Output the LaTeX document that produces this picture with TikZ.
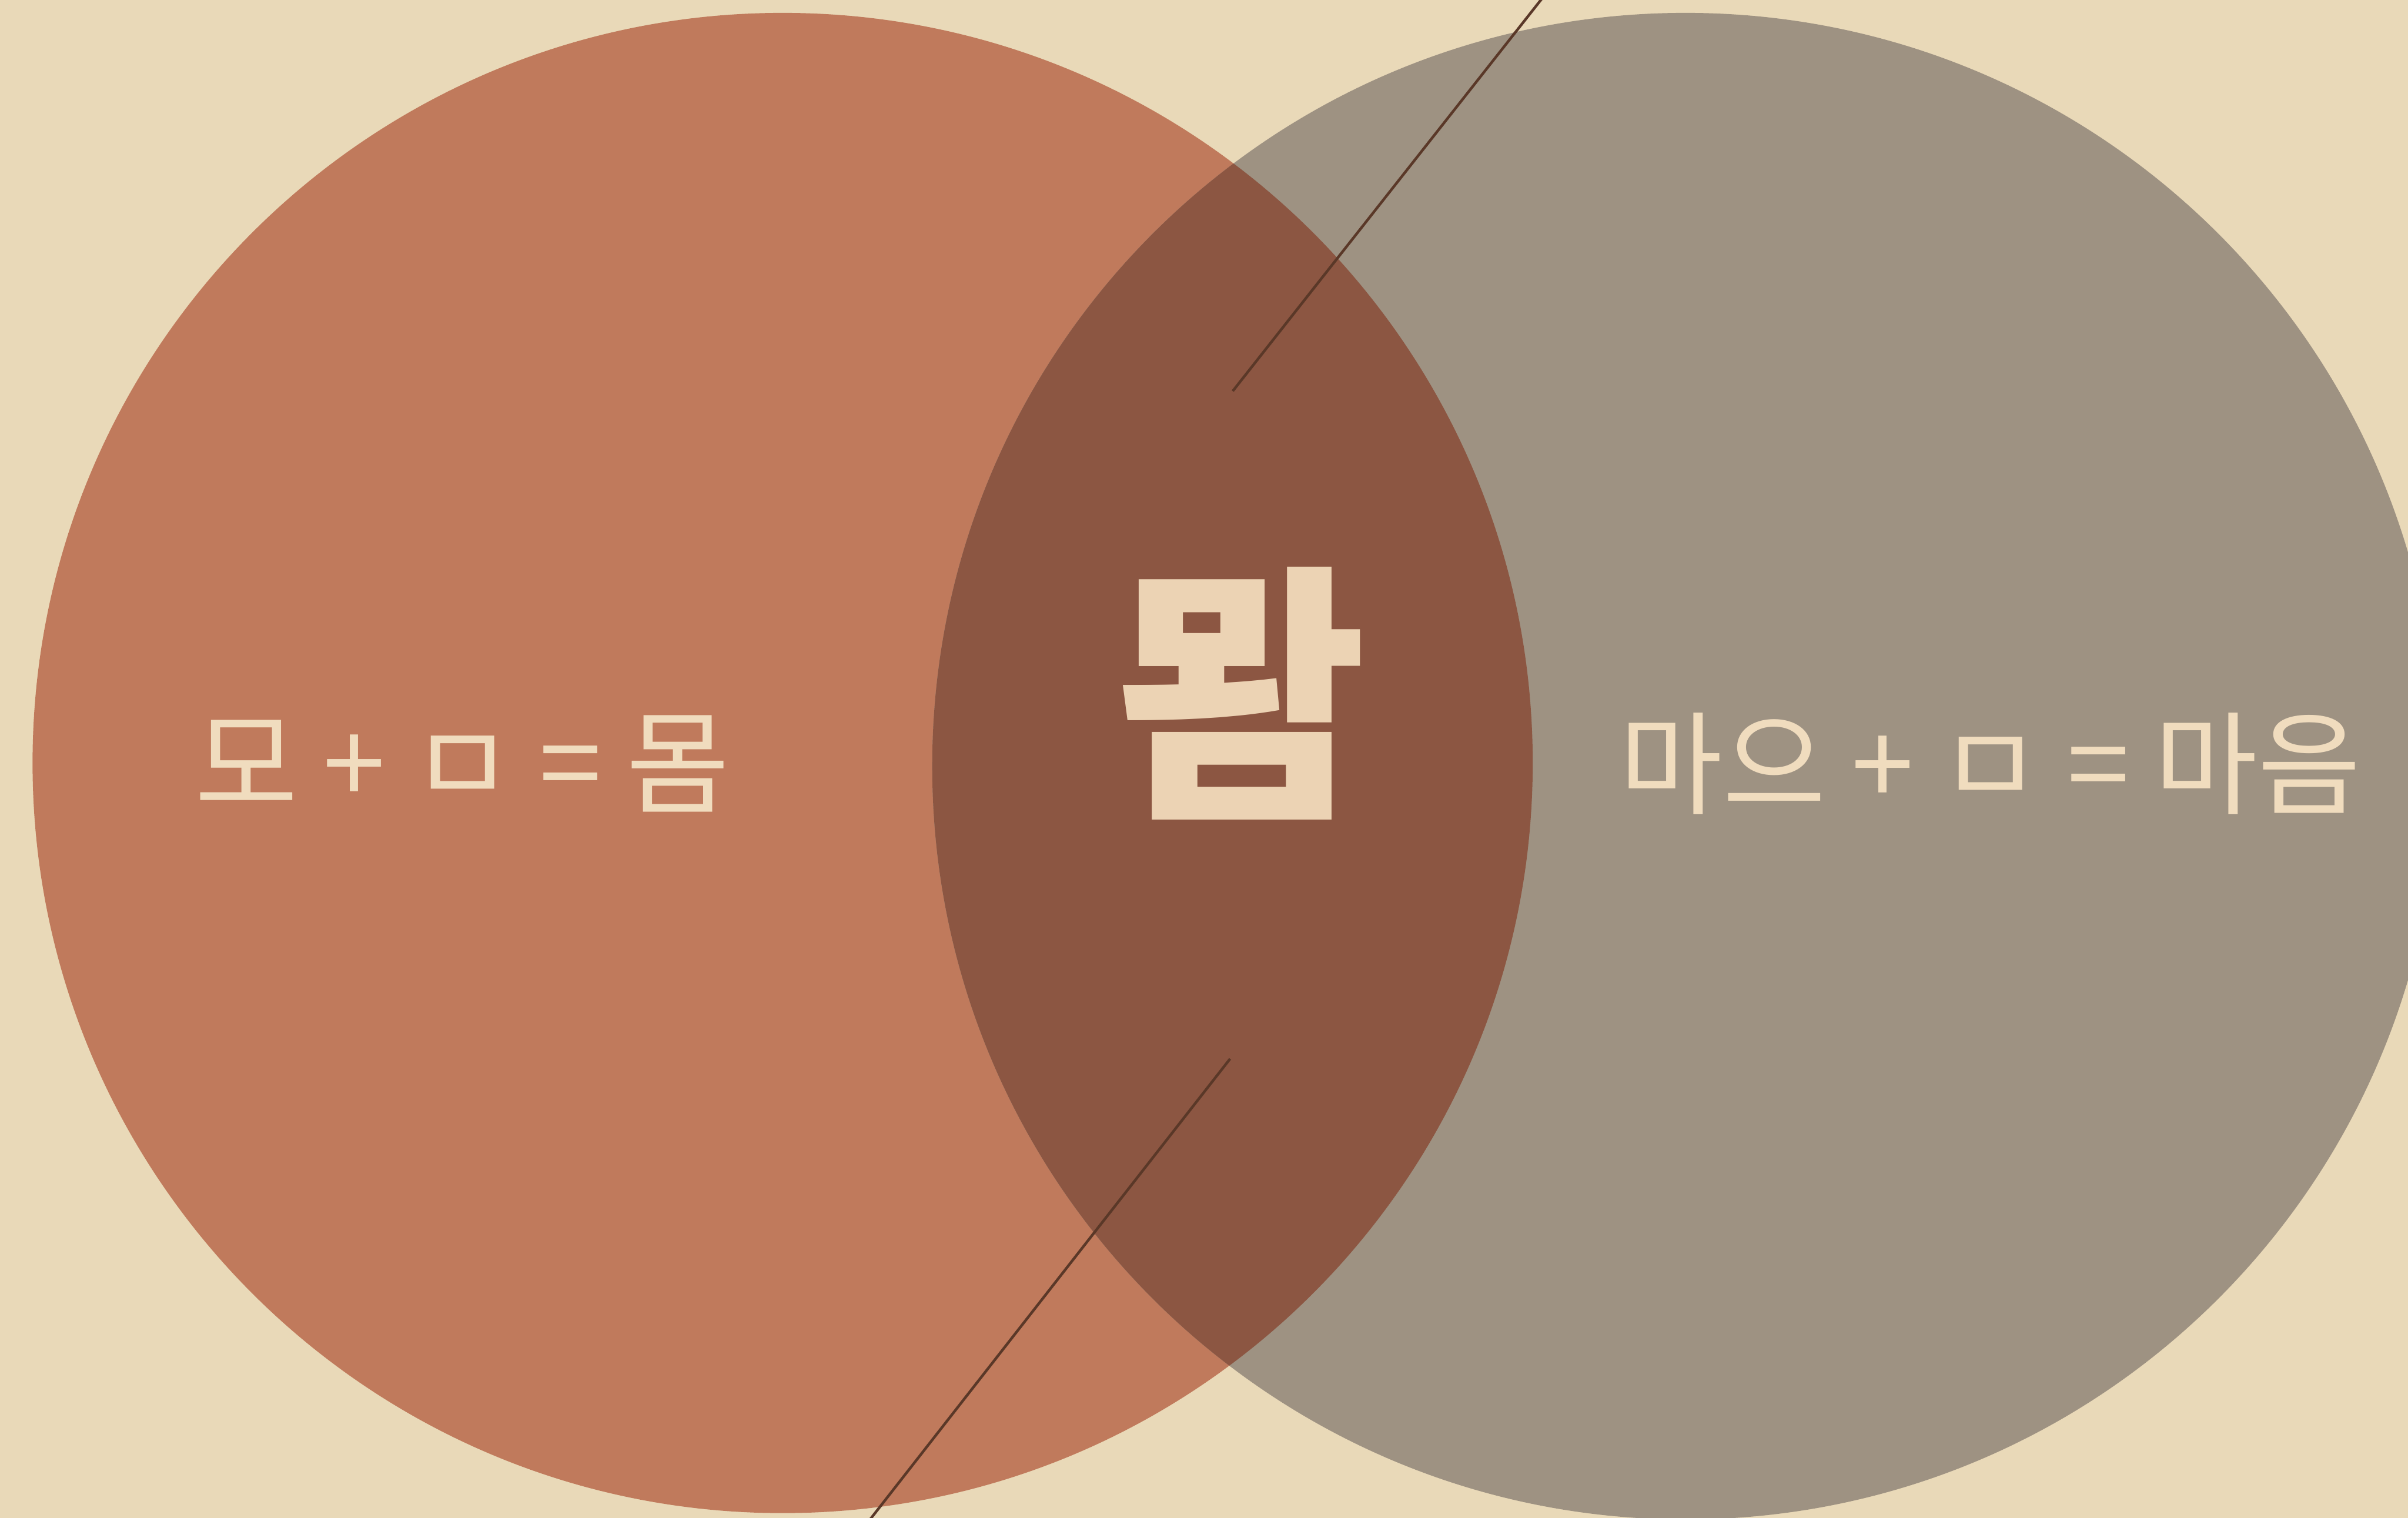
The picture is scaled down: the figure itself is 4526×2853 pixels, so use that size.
\documentclass[tikz,border=0pt]{standalone}
\usepackage{fontspec}
\newfontfamily\kr{Noto Sans CJK KR}
\definecolor{bgc}{HTML}{E9D9B8}
\definecolor{leftc}{HTML}{C07A5C}
\definecolor{rightc}{HTML}{9E9282}
\definecolor{overc}{HTML}{8C5642}
\definecolor{txtc}{HTML}{F0DCBE}
\definecolor{bigc}{HTML}{ECD3B4}
\definecolor{linec}{HTML}{5A3828}
\tikzset{
  eqtext/.style={font=\kr\fontsize{60}{60}\selectfont, text=txtc, inner sep=0pt},
  bigtext/.style={font=\kr\bfseries\fontsize{146}{146}\selectfont, text=bigc, inner sep=0pt},
  pointer/.style={draw=linec, line width=1.4pt}
}
\begin{document}
\begin{tikzpicture}[x=0.01cm, y=-0.01cm]
  \useasboundingbox (0,0) rectangle (4526,2853);
  \clip (0,0) rectangle (4526,2853);
  \fill[bgc] (0,0) rectangle (4526,2853);
  % circles
  \fill[leftc] (1471,1434) circle[radius=14.09cm];
  \fill[rightc] (3168,1440) circle[radius=14.15cm];
  \begin{scope}
    \clip (1471,1434) circle[radius=14.09cm];
    \fill[overc] (3168,1440) circle[radius=14.15cm];
  \end{scope}
  % pointer lines
  \coordinate (u1) at (2900,-5);
  \coordinate (u2) at (2317,735);
  \coordinate (l1) at (2312,1990);
  \coordinate (l2) at (1632,2860);
  \draw[pointer] (u1) -- (u2);
  \draw[pointer] (l1) -- (l2);
  % texts
  \node[eqtext] (lefteq) at (869,1435) {모 + ㅁ = 몸};
  \node[eqtext] (righteq) at (3741,1435) {마으 + ㅁ = 마음};
  \node[bigtext] (big) at (2332,1303) {뫔};
\end{tikzpicture}
\end{document}
